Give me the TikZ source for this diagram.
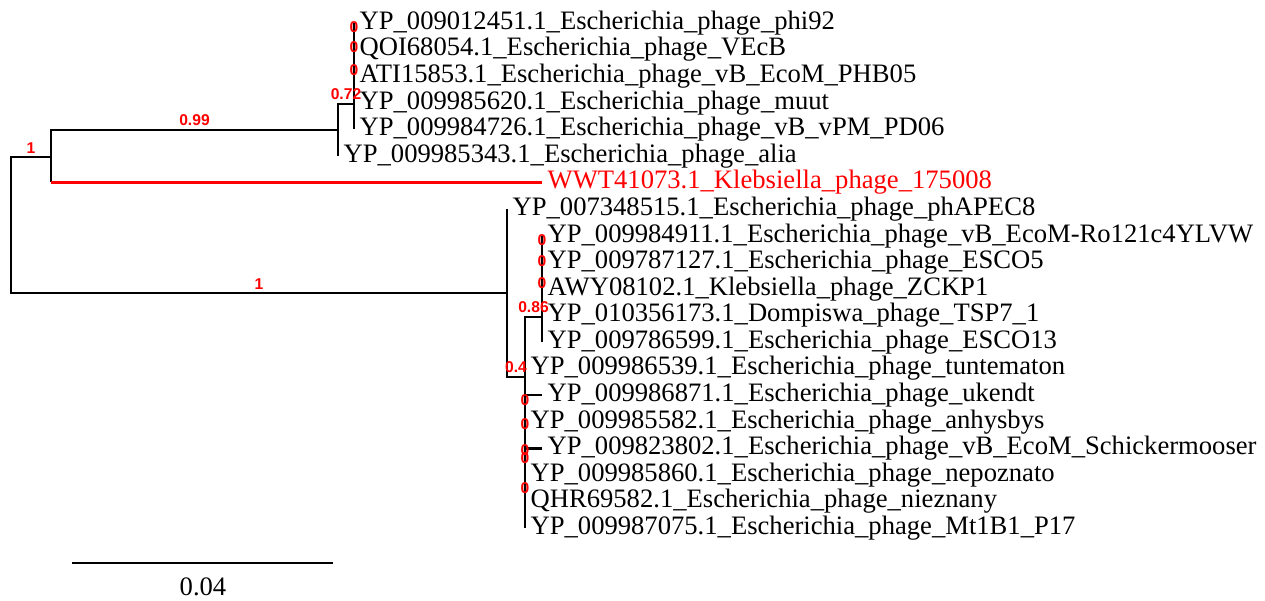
\documentclass[tikz,border=0pt]{standalone}
\usepackage{fontspec}
\setmainfont{Liberation Serif}
\newfontfamily\supfont{Liberation Sans}
\usetikzlibrary{calc}

\begin{document}
\begin{tikzpicture}[x=0.02cm, y=-0.02cm,
    branch/.style={line width=1.4pt},
    tip/.style={anchor=west, inner xsep=3pt, inner ysep=0pt,
      font=\fontsize{15.15}{18}\selectfont},
    support/.style={text=red, inner sep=0pt,
      font=\supfont\bfseries\fontsize{8.9}{10}\selectfont}]
  \useasboundingbox (0,0) rectangle (1265,600);
  % Internal nodes of the tree.
  \coordinate (root) at (11,224);
  \coordinate (a) at (51,157);
  \coordinate (b) at (338,130);
  \coordinate (c) at (354,104);
  \coordinate (d) at (507,293);
  \coordinate (e) at (525,377);
  \coordinate (f) at (542,317);
  % Tips: name / x / row / label.
  \foreach \n/\x/\i/\lab in {
      t1/354/0/YP\_009012451.1\_Escherichia\_phage\_phi92,
      t2/354/1/QOI68054.1\_Escherichia\_phage\_VEcB,
      t3/354/2/ATI15853.1\_Escherichia\_phage\_vB\_EcoM\_PHB05,
      t4/354/3/YP\_009985620.1\_Escherichia\_phage\_muut,
      t5/354/4/YP\_009984726.1\_Escherichia\_phage\_vB\_vPM\_PD06,
      t6/338/5/YP\_009985343.1\_Escherichia\_phage\_alia,
      t8/507/7/YP\_007348515.1\_Escherichia\_phage\_phAPEC8,
      t9/542/8/YP\_009984911.1\_Escherichia\_phage\_vB\_EcoM-Ro121c4YLVW,
      t10/542/9/YP\_009787127.1\_Escherichia\_phage\_ESCO5,
      t11/542/10/AWY08102.1\_Klebsiella\_phage\_ZCKP1,
      t12/542/11/YP\_010356173.1\_Dompiswa\_phage\_TSP7\_1,
      t13/542/12/YP\_009786599.1\_Escherichia\_phage\_ESCO13,
      t14/525/13/YP\_009986539.1\_Escherichia\_phage\_tuntematon,
      t15/542/14/YP\_009986871.1\_Escherichia\_phage\_ukendt,
      t16/525/15/YP\_009985582.1\_Escherichia\_phage\_anhysbys,
      t17/542/16/YP\_009823802.1\_Escherichia\_phage\_vB\_EcoM\_Schickermooser,
      t18/525/17/YP\_009985860.1\_Escherichia\_phage\_nepoznato,
      t19/525/18/QHR69582.1\_Escherichia\_phage\_nieznany,
      t20/525/19/YP\_009987075.1\_Escherichia\_phage\_Mt1B1\_P17} {
    \coordinate (\n) at (\x,{23+\i*26.58});
    \node[tip] (l\n) at (\n) {\lab};
  }
  % The highlighted Klebsiella phage.
  \coordinate (t7) at (542,{23+6*26.58});
  \node[tip, text=red] (lt7) at (t7) {WWT41073.1\_Klebsiella\_phage\_175008};
  % Branches (rectangular layout).
  \foreach \p/\q in {root/a, root/d, a/b, b/c, b/t6,
      c/t1, c/t2, c/t3, c/t4, c/t5, d/t8, d/e, e/f,
      f/t9, f/t10, f/t11, f/t12, f/t13,
      e/t14, e/t15, e/t16, e/t17, e/t18, e/t19, e/t20}
    \draw[branch] (\p) |- (\q);
  \coordinate (a7) at (a|-t7);
  \draw[branch] (a) -- (a7);
  \draw[branch, red] (a7) -- (t7);
  % Support values above the middle of each branch.
  \node[support, above=2pt] (sa) at ($(root|-a)!.5!(a)$) {1};
  \node[support, above=2pt] (sb) at ($(a|-b)!.5!(b)$) {0.99};
  \node[support, above=2pt] (sc) at ($(b|-c)!.5!(c)$) {0.72};
  \node[support, above=2pt] (sd) at ($(root|-d)!.5!(d)$) {1};
  \node[support, above=2pt] (se) at ($(d|-e)!.5!(e)$) {0.4};
  \node[support, above=2pt] (sf) at ($(e|-f)!.5!(f)$) {0.86};
  % Zero-length internal branches.
  \foreach \y [count=\k] in {27,47,70}
    \node[support] (zc\k) at (354,\y) {0};
  \foreach \y [count=\k] in {240,261,283}
    \node[support] (zf\k) at (542,\y) {0};
  \foreach \y [count=\k] in {400,424,450,458,488}
    \node[support] (ze\k) at (525,\y) {0};
  % Scale bar.
  \coordinate (s0) at (72,563);
  \coordinate (s1) at (333,563);
  \draw[branch] (s0) -- (s1);
  \node[font=\fontsize{15.15}{18}\selectfont] (slab) at (203,587) {0.04};
\end{tikzpicture}
\end{document}
